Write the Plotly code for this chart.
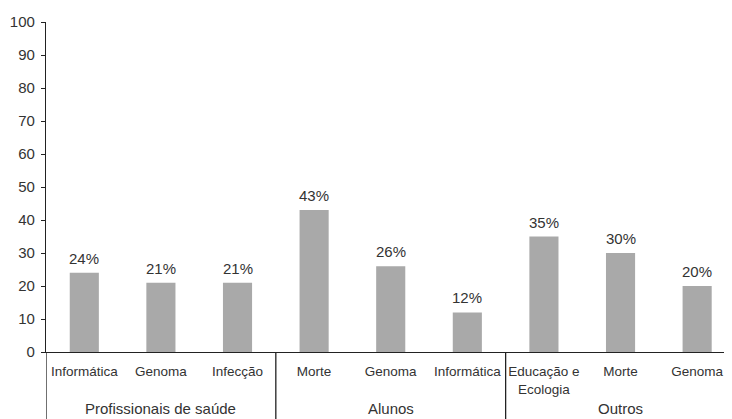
import plotly.graph_objects as go

categories = ["Informática", "Genoma", "Infecção", "Morte", "Genoma", "Informática",
              "Educação e<br>Ecologia", "Morte", "Genoma"]
values = [24, 21, 21, 43, 26, 12, 35, 30, 20]
groups = ["Profissionais de saúde", "Alunos", "Outros"]
group_sizes = [3, 3, 3]
y_ticks = list(range(0, 101, 10))

FONT = "Liberation Sans, Arial, sans-serif"
TXT = "#333333"
LINE = "#222222"

xpos = list(range(len(categories)))

fig = go.Figure(go.Bar(
    x=xpos, y=values, width=0.38,
    marker=dict(color="#a9a9a9", line=dict(width=0)),
    hoverinfo="skip",
))

annotations = []
for xi, v in zip(xpos, values):
    annotations.append(dict(x=xi, y=v, xref="x", yref="y", text=f"{v}%",
                            showarrow=False, yanchor="bottom", yshift=4,
                            font=dict(family=FONT, size=15, color=TXT)))

shapes = []
start = 0
bounds = []
for g, n in zip(groups, group_sizes):
    mid = start + (n - 1) / 2
    annotations.append(dict(x=mid, y=-0.172, xref="x", yref="paper", text=g,
                            showarrow=False, yanchor="middle",
                            font=dict(family=FONT, size=15, color=TXT)))
    start += n
    if start < len(categories):
        bounds.append(start - 0.5)

for b in bounds:
    shapes.append(dict(type="line", xref="x", yref="paper", x0=b, x1=b, y0=0, y1=-0.25,
                       line=dict(color=LINE, width=1.3)))
# extension of the left axis line down through the label table
shapes.append(dict(type="line", xref="x", yref="paper", x0=-0.5, x1=-0.5, y0=0, y1=-0.25,
                   line=dict(color=LINE, width=1.3)))

fig.update_layout(
    width=724, height=411,
    margin=dict(l=38, r=0, t=14, b=67),
    paper_bgcolor="white", plot_bgcolor="white",
    showlegend=False,
    annotations=annotations,
    shapes=shapes,
    font=dict(family=FONT, color=TXT),
    xaxis=dict(
        range=[-0.5, 8.455], automargin=False,
        tickvals=xpos, ticktext=categories,
        tickfont=dict(family=FONT, size=13.5, color=TXT),
        ticks="", ticklabelstandoff=7,
        showline=True, linecolor=LINE, linewidth=1.3,
        showgrid=False, zeroline=False, fixedrange=True,
    ),
    yaxis=dict(
        range=[0, 100], tickvals=y_ticks, automargin=False,
        tickfont=dict(family=FONT, size=15, color=TXT),
        ticks="outside", ticklen=4, tickcolor=LINE, tickwidth=1.2,
        ticklabelstandoff=3,
        showline=True, linecolor=LINE, linewidth=1.3,
        showgrid=False, zeroline=False, fixedrange=True,
    ),
)

fig.write_html("out.html")
